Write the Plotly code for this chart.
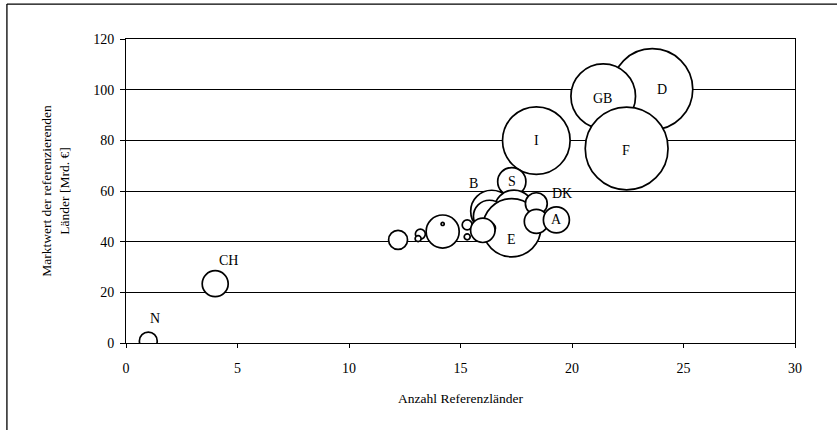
import plotly.graph_objects as go

# Reference countries per market: number of countries that reference it (x),
# market value of the referencing countries in bn EUR (y) and own market size (bubble area)
labels = ["D", "GB", "F", "I", "S", "B", "", "", "E", "", "DK", "", "A",
          "", "", "", "", "", "", "", "", "CH", "N"]
anzahl = [23.6, 21.4, 22.45, 18.4, 17.3, 16.4, 17.4, 16.3, 17.3, 16.3, 18.4, 18.4, 19.3,
          15.3, 15.3, 14.2, 14.2, 13.2, 13.1, 12.2, 16.0, 4.0, 1.0]
marktwert = [100.2, 97.4, 76.8, 79.9, 63.7, 52.0, 52.5, 50.0, 45.5, 45.3, 55.0, 48.0, 48.6,
             46.6, 41.9, 44.0, 47.0, 43.0, 41.2, 40.7, 44.5, 23.4, 0.8]
groesse = [33.0, 21.0, 34.5, 23.0, 4.0, 8.9, 8.0, 5.2, 17.0, 0.72, 2.4, 2.9, 3.4,
           0.5, 0.18, 5.5, 0.05, 0.5, 0.18, 1.8, 3.0, 3.4, 1.6]

x_ticks = [0, 5, 10, 15, 20, 25, 30]
y_ticks = [0, 20, 40, 60, 80, 100, 120]

# label offsets (px) for names not placed on the bubble centre
label_shift = {"D": (10, 0), "B": (-18, 28), "DK": (26, 10), "E": (0, -12),
               "CH": (13, 23), "N": (7, 22), "GB": (-1, -2), "F": (-1, -2)}

SERIF = "Liberation Serif, Times New Roman, serif"
max_diameter = 82.8
sizeref = 2.0 * max(groesse) / max_diameter ** 2

fig = go.Figure()
fig.add_trace(go.Scatter(
    x=anzahl, y=marktwert, mode="markers",
    marker=dict(size=groesse, sizemode="area", sizeref=sizeref,
                color="white", opacity=1,
                line=dict(color="black", width=1.7)),
    hoverinfo="skip", showlegend=False,
))

for name, xv, yv in zip(labels, anzahl, marktwert):
    if not name:
        continue
    dx, dy = label_shift.get(name, (0, 0))
    fig.add_annotation(x=xv, y=yv, text=name, showarrow=False,
                       xshift=dx, yshift=dy,
                       font=dict(family=SERIF, size=14, color="black"))

# outer chart frame: top and left edges
frame = dict(color="black", width=1.3)
fig.add_shape(type="line", xref="paper", yref="paper",
              x0=-0.178, x1=1.1, y0=1.115, y1=1.115, line=frame, layer="below")
fig.add_shape(type="line", xref="paper", yref="paper",
              x0=-0.178, x1=-0.178, y0=1.115, y1=-0.3, line=frame, layer="below")

fig.update_layout(
    width=837, height=430,
    margin=dict(l=126, r=42, t=39, b=87),
    paper_bgcolor="white", plot_bgcolor="white",
    font=dict(family=SERIF, size=14, color="black"),
    xaxis=dict(range=[0, 30], tickvals=x_ticks, ticktext=[str(v) for v in x_ticks],
               showgrid=False, zeroline=False,
               showline=True, linecolor="black", linewidth=1, mirror=True,
               ticks="outside", ticklen=4, tickcolor="black",
               ticklabelstandoff=8,
               tickfont=dict(family=SERIF, size=14),
               title=dict(text="Anzahl Referenzländer", standoff=18,
                          font=dict(family=SERIF, size=13.5))),
    yaxis=dict(range=[0, 120], tickvals=y_ticks, ticktext=[str(v) for v in y_ticks],
               showgrid=True, gridcolor="black", gridwidth=1, zeroline=False,
               showline=True, linecolor="black", linewidth=1, mirror=True,
               ticks="outside", ticklen=5, tickcolor="black",
               ticklabelstandoff=3,
               tickfont=dict(family=SERIF, size=14),
               title=dict(text="Marktwert der referenzierenden<br>Länder [Mrd. €]",
                          standoff=20, font=dict(family=SERIF, size=13.5))),
)

fig.write_html("out.html")
